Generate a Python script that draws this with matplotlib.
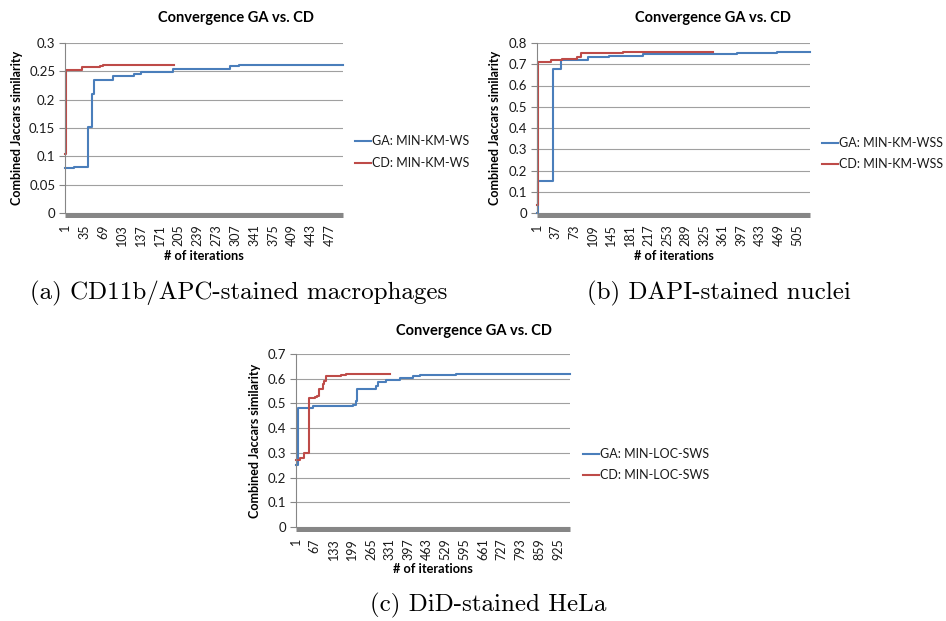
import matplotlib
matplotlib.use("Agg")
import matplotlib.pyplot as plt
from matplotlib.lines import Line2D
from matplotlib.transforms import offset_copy

W, H = 946, 621
plt.rcParams['font.family'] = ['Lato', 'DejaVu Sans']

BLUE = '#4a7ebb'
RED = '#be4b48'
GRID = '#a0a0a0'
AXIS = '#868686'

TITLE = "Convergence GA vs. CD"
YLABEL = "Combined Jaccars similarity"
XLABEL = "# of iterations"

# (a) CD11b/APC-stained macrophages
a_n_iter = 500
a_tick_step = 34
a_yticks = [0, 0.05, 0.1, 0.15, 0.2, 0.25, 0.3]
a_ytick_labels = ["0", "0.05", "0.1", "0.15", "0.2", "0.25", "0.3"]
a_ga_iter = [1, 17, 41, 49, 53, 86, 125, 137, 195, 298, 313, 500]
a_ga_val = [0.080, 0.082, 0.152, 0.210, 0.235, 0.241, 0.245, 0.248, 0.254, 0.260, 0.262, 0.262]
a_cd_iter = [1, 2, 3, 31, 63, 68, 197]
a_cd_val = [0.104, 0.220, 0.253, 0.258, 0.260, 0.262, 0.262]
a_ga_name = "GA: MIN-KM-WS"
a_cd_name = "CD: MIN-KM-WS"
a_caption = "(a) CD11b/APC-stained macrophages"

# (b) DAPI-stained nuclei
b_n_iter = 530
b_tick_step = 36
b_yticks = [0, 0.1, 0.2, 0.3, 0.4, 0.5, 0.6, 0.7, 0.8]
b_ytick_labels = ["0", "0.1", "0.2", "0.3", "0.4", "0.5", "0.6", "0.7", "0.8"]
b_ga_iter = [1, 2, 31, 47, 99, 141, 206, 260, 388, 466, 530]
b_ga_val = [0.0, 0.150, 0.680, 0.720, 0.735, 0.740, 0.748, 0.750, 0.755, 0.758, 0.758]
b_cd_iter = [1, 2, 3, 27, 50, 79, 86, 167, 343]
b_cd_val = [0.040, 0.150, 0.712, 0.718, 0.725, 0.735, 0.755, 0.758, 0.758]
b_ga_name = "GA: MIN-KM-WSS"
b_cd_name = "CD: MIN-KM-WSS"
b_caption = "(b) DAPI-stained nuclei"

# (c) DiD-stained HeLa
c_n_iter = 967
c_tick_step = 66
c_yticks = [0, 0.1, 0.2, 0.3, 0.4, 0.5, 0.6, 0.7]
c_ytick_labels = ["0", "0.1", "0.2", "0.3", "0.4", "0.5", "0.6", "0.7"]
c_ga_iter = [1, 6, 60, 201, 213, 216, 284, 290, 319, 366, 413, 437, 496, 566, 967]
c_ga_val = [0.250, 0.480, 0.488, 0.495, 0.510, 0.560, 0.570, 0.585, 0.595, 0.603, 0.610, 0.615, 0.617, 0.620, 0.620]
c_cd_iter = [1, 15, 27, 48, 66, 74, 83, 95, 100, 107, 148, 160, 178, 331]
c_cd_val = [0.270, 0.280, 0.300, 0.520, 0.525, 0.530, 0.560, 0.580, 0.590, 0.610, 0.613, 0.615, 0.620, 0.620]
c_ga_name = "GA: MIN-LOC-SWS"
c_cd_name = "CD: MIN-LOC-SWS"
c_caption = "(c) DiD-stained HeLa"


def fx(x):
    return x / W


def fy(y):
    return 1 - y / H


fig = plt.figure(figsize=(W / 100, H / 100), dpi=100)


def panel(box, n_iter, tick_step, yticks, ylabels, ga, cd, names,
          title_xy, ylab_x, xlab_y, legend_xy):
    left, right, top, bottom = box
    ax = fig.add_axes([fx(left), fy(bottom), fx(right - left), (bottom - top) / H])
    ax.set_xlim(0.5, n_iter + 0.5)
    ax.set_ylim(yticks[0], yticks[-1])
    ax.set_yticks(yticks)
    ax.set_yticklabels(ylabels, fontsize=9.5, color='#1a1a1a')
    xt = list(range(1, n_iter + 1, tick_step))
    ax.set_xticks(xt)
    ax.set_xticklabels([str(v) for v in xt], rotation=90, fontsize=9, color='#1a1a1a')
    ax.tick_params(axis='x', length=0, pad=8)
    ax.tick_params(axis='y', length=4, width=0.8, color=AXIS, pad=3)
    ax.grid(axis='y', color=GRID, linewidth=0.8)
    ax.set_axisbelow(True)
    for s in ('top', 'right', 'bottom'):
        ax.spines[s].set_visible(False)
    ax.spines['left'].set_color(AXIS)
    ax.spines['left'].set_linewidth(0.8)

    # dense per-iteration tick marks along the category axis form a solid band
    band_tr = offset_copy(ax.transAxes, fig=fig, x=0, y=-2.2, units='dots')
    ax.add_line(Line2D([0, 1], [0, 0], transform=band_tr, color=AXIS, lw=3.6,
                       solid_capstyle='butt', clip_on=False, zorder=1.5))

    ax.plot(ga[0], ga[1], color=BLUE, lw=1.5, drawstyle='steps-post', clip_on=False)
    ax.plot(cd[0], cd[1], color=RED, lw=1.5, drawstyle='steps-post', clip_on=False)

    fig.text(fx(title_xy[0]), fy(title_xy[1]), TITLE, ha='center', va='center',
             fontsize=10.5, fontweight='bold')
    fig.text(fx(ylab_x), fy((top + bottom) / 2), YLABEL, rotation=90, ha='center',
             va='center', fontsize=9, fontweight='bold')
    fig.text(fx((left + right) / 2), fy(xlab_y), XLABEL, ha='center', va='center',
             fontsize=9.2, fontweight='bold')

    lx, ly, gap = legend_xy
    for i, (name, col) in enumerate(zip(names, (BLUE, RED))):
        yy = ly + i * gap
        fig.add_artist(Line2D([fx(lx), fx(lx + 16)], [fy(yy), fy(yy)], color=col, lw=1.5,
                              transform=fig.transFigure))
        fig.text(fx(lx + 17), fy(yy), name, ha='left', va='center', fontsize=9,
                 color='#1a1a1a')
    return ax


panel((65, 343, 43, 213), a_n_iter, a_tick_step, a_yticks, a_ytick_labels,
      (a_ga_iter, a_ga_val), (a_cd_iter, a_cd_val), (a_ga_name, a_cd_name),
      (236, 18), 17, 256, (355, 141, 22))

panel((537, 810, 43, 213), b_n_iter, b_tick_step, b_yticks, b_ytick_labels,
      (b_ga_iter, b_ga_val), (b_cd_iter, b_cd_val), (b_ga_name, b_cd_name),
      (713, 18), 495, 256, (822, 143, 21))

panel((296, 570, 354, 527), c_n_iter, c_tick_step, c_yticks, c_ytick_labels,
      (c_ga_iter, c_ga_val), (c_cd_iter, c_cd_val), (c_ga_name, c_cd_name),
      (474, 331), 255, 569, (583, 454, 21))

cap_kw = dict(fontsize=18, family='cmr10', ha='left', va='center')
fig.text(fx(30), fy(293), a_caption, **cap_kw)
fig.text(fx(587), fy(293), b_caption, **cap_kw)
fig.text(fx(370), fy(605), c_caption, **cap_kw)

fig.savefig("out.png", dpi=100)
